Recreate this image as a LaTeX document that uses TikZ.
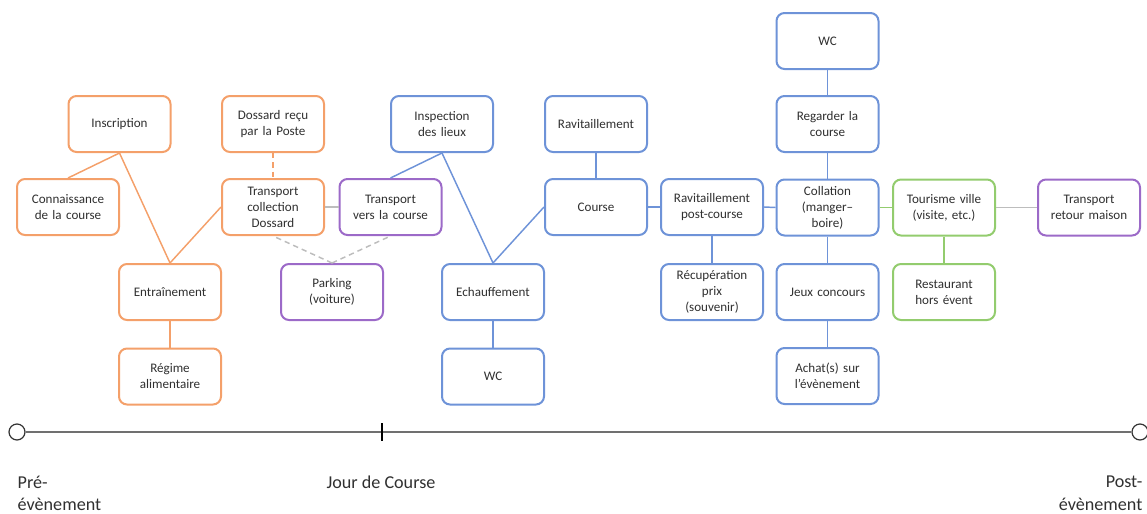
\documentclass[tikz,border=0pt]{standalone}
\usepackage{fontspec}
\setmainfont{Carlito}
\definecolor{orangeC}{HTML}{F4A06A}
\definecolor{blueC}{HTML}{6E93D8}
\definecolor{greenC}{HTML}{93CC6E}
\definecolor{purpleC}{HTML}{9C6AC8}
\definecolor{grayC}{HTML}{BDBDBD}
\definecolor{lineC}{HTML}{707070}
\definecolor{textC}{HTML}{303030}
\tikzset{
  box/.style={rectangle, rounded corners=6pt, line width=1.5pt, fill=white,
    minimum width=76.5pt, minimum height=42pt, inner sep=2pt, align=center,
    text width=72pt, text=textC,
    font=\fontsize{9.8pt}{12pt}\selectfont},
  obox/.style={box, draw=orangeC},
  bbox/.style={box, draw=blueC},
  gbox/.style={box, draw=greenC},
  pbox/.style={box, draw=purpleC},
  olink/.style={draw=orangeC, line width=1.1pt},
  blink/.style={draw=blueC, line width=1.1pt},
  glink/.style={draw=greenC, line width=1.1pt},
  graylink/.style={draw=grayC, line width=1.1pt},
  dlink/.style={dash pattern=on 4pt off 3pt},
  endpt/.style={circle, draw=black!80, line width=0.9pt, fill=white, minimum size=12pt, inner sep=0pt},
  tl/.style={text=textC, font=\fontsize{13.6pt}{17pt}\selectfont},
}
\begin{document}
\begin{tikzpicture}[x=0.75pt, y=-0.75pt]
\useasboundingbox (0,0) rectangle (1147,514);

% avant la course
\node[obox] (insc) at (119.5,124) {Inscription};
\node[obox] (doss) at (273,124) {Dossard reçu\\par la Poste};
\node[obox] (conn) at (68,207) {Connaissance\\de la course};
\node[obox] (tcol) at (273,207) {Transport\\collection\\Dossard};
\node[pbox] (tver) at (390.5,207) {Transport\\vers la course};
\node[obox] (entr) at (170,292) {Entraînement};
\node[pbox] (park) at (332,292) {Parking\\(voiture)};
\node[obox] (regi) at (170,376.5) {Régime\\alimentaire};

% jour de course
\node[bbox] (insp) at (442,124) {Inspection\\des lieux};
\node[bbox] (echa) at (493,292) {Echauffement};
\node[bbox] (wca) at (493,376.5) {WC};
\node[bbox] (ravi) at (596,124) {Ravitaillement};
\node[bbox] (cour) at (596,207) {Course};
\node[bbox] (ravp) at (712,207) {Ravitaillement\\post-course};
\node[bbox] (recu) at (712,292) {Récupération\\prix\\(souvenir)};
\node[bbox] (wcb) at (827.5,41) {WC};
\node[bbox] (rega) at (827.5,124) {Regarder la\\course};
\node[bbox] (coll) at (827.5,207.5) {Collation\\(manger–\\boire)};
\node[bbox] (jeux) at (827.5,292) {Jeux concours};
\node[bbox] (acha) at (827.5,376) {Achat(s) sur\\l’évènement};

% après la course
\node[gbox] (tour) at (944,207.5) {Tourisme ville\\(visite, etc.)};
\node[gbox] (rest) at (944,292) {Restaurant\\hors évent};
\node[pbox] (tret) at (1089,207.5) {Transport\\retour maison};

% liaisons
\draw[olink] (insc.south) -- (conn.north);
\draw[olink] (insc.south) -- (entr.north);
\draw[olink] (entr.north) -- (tcol.west);
\draw[olink] (entr.south) -- (regi.north);
\draw[olink, dlink] (doss.south) -- (tcol.north);
\draw[graylink] (tcol.east) -- (tver.west);
\draw[graylink, dlink] (park.north) -- (tcol.south);
\draw[graylink, dlink] (park.north) -- (tver.south);
\draw[blink] (tver.north) -- (insp.south);
\draw[blink] (insp.south) -- (echa.north);
\draw[blink] (echa.north) -- (cour.west);
\draw[blink] (echa.south) -- (wca.north);
\draw[blink] (ravi.south) -- (cour.north);
\draw[blink] (cour.east) -- (ravp.west);
\draw[blink] (ravp.south) -- (recu.north);
\draw[blink] (ravp.east) -- (coll.west);
\draw[blink] (wcb.south) -- (rega.north);
\draw[blink] (rega.south) -- (coll.north);
\draw[blink] (coll.south) -- (jeux.north);
\draw[blink] (jeux.south) -- (acha.north);
\draw[glink] (coll.east) -- (tour.west);
\draw[glink] (tour.south) -- (rest.north);
\draw[graylink] (tour.east) -- (tret.west);

% frise chronologique
\node[endpt] (t0) at (17,432) {};
\node[endpt] (t1) at (1140,432) {};
\draw[lineC, line width=1.4pt] (t0.east) -- (t1.west);
\coordinate (k0) at (382,423);
\coordinate (k1) at (382,441);
\draw[black, line width=1pt] (k0) -- (k1);
\node[tl, anchor=west, align=left] (pre) at (13,493.5) {Pré-\\évènement};
\node[tl] (jour) at (381,482) {Jour de Course};
\node[tl, anchor=east, align=right] (post) at (1147,493.5) {Post-\\évènement};
\end{tikzpicture}
\end{document}
